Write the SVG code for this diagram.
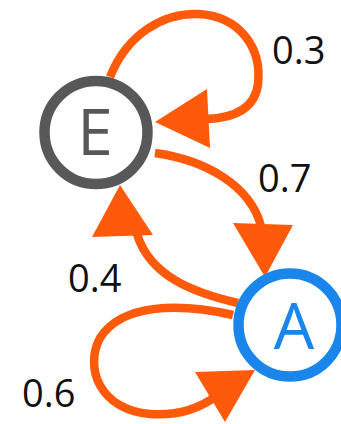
<svg xmlns="http://www.w3.org/2000/svg" width="341" height="424" viewBox="0 0 341 424">
<style>
.edge{fill:none;stroke:#ff5a0a;stroke-width:8.5}
.head{fill:#ff5a0a;stroke:none}
.ring{fill:#fff;stroke-width:10.5}
.lbl{font-family:"Open Sans","DejaVu Sans",sans-serif;font-size:38px;fill:#111}
.nlbl{font-family:"Open Sans","DejaVu Sans",sans-serif;font-size:64px;text-anchor:middle}
</style>
<rect width="341" height="424" fill="#fff"/>
<g id="connectors">
<path class="edge" d="M110,77 C128,32 165,13 198,14 C240,16 262,48 258,84 C255,108 235,118 206,119"/>
<polygon class="head" points="155,122 207,89 210,148"/>
<path class="edge" d="M155,153 C205,160 250,185 261,226"/>
<polygon class="head" points="265,277 233,223 293,225"/>
<path class="edge" d="M238,303 C195,293 150,277 137,234"/>
<polygon class="head" points="120,185 92,237 153,235"/>
<path class="edge" d="M233,315 C180,303 122,303 100,338 C84,368 100,410 150,414 C180,416 200,408 218,395"/>
<polygon class="head" points="255,370 195,372 225,422"/>
</g>
<g id="node-E">
<circle class="ring" cx="96" cy="132.5" r="51.5" stroke="#58585a"/>
<text class="nlbl" x="95" y="155" fill="#58585a">E</text>
</g>
<g id="node-A">
<circle class="ring" cx="290" cy="325" r="51.5" stroke="#1a86ec"/>
<text class="nlbl" x="294" y="349" fill="#1a86ec">A</text>
</g>
<g id="labels">
<text class="lbl" x="272" y="64">0.3</text>
<text class="lbl" x="258" y="192">0.7</text>
<text class="lbl" x="68" y="292">0.4</text>
<text class="lbl" x="22" y="407">0.6</text>
</g>
</svg>
